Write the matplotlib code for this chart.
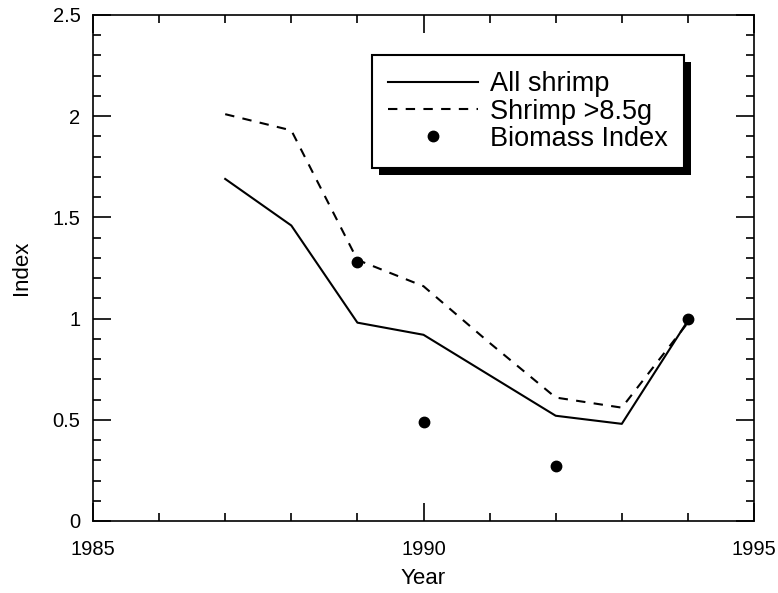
import matplotlib
matplotlib.use("Agg")
import matplotlib.pyplot as plt
from matplotlib.ticker import MultipleLocator
from matplotlib.patches import Rectangle
from matplotlib.transforms import IdentityTransform

plt.rcParams['font.family'] = ['Liberation Sans', 'DejaVu Sans']

years = [1987, 1988, 1989, 1990, 1991, 1992, 1993, 1994]
all_shrimp = [1.69, 1.46, 0.98, 0.92, 0.72, 0.52, 0.48, 0.99]
shrimp_large = [2.01, 1.93, 1.29, 1.16, 0.88, 0.61, 0.56, 0.98]
biomass_years = [1989, 1990, 1992, 1994]
biomass_index = [1.28, 0.49, 0.27, 1.00]
y_tick_labels = ['0', '0.5', '1', '1.5', '2', '2.5']

fig = plt.figure(figsize=(7.78, 5.93), dpi=100)
ax = fig.add_axes([93/778, 1 - 521/593, (754-93)/778, (521-15)/593])

ax.plot(years, all_shrimp, color='black', lw=1.5, label='All shrimp')
ax.plot(years, shrimp_large, color='black', lw=1.5, ls=(0, (4.5, 4)), label='Shrimp >8.5g')
ax.plot(biomass_years, biomass_index, 'o', color='black', ms=7.5, label='Biomass Index')

ax.set_xlim(1985, 1995)
ax.set_ylim(0, 2.5)
ax.xaxis.set_major_locator(MultipleLocator(5))
ax.xaxis.set_minor_locator(MultipleLocator(1))
ax.set_yticks([0, 0.5, 1, 1.5, 2, 2.5])
ax.set_yticklabels(y_tick_labels)
ax.yaxis.set_minor_locator(MultipleLocator(0.1))
ax.tick_params(which='both', direction='in', top=True, right=True, labelsize=14.5, width=1.2)
ax.tick_params(which='major', length=13)
ax.tick_params(which='minor', length=6)
ax.tick_params(axis='x', which='major', pad=14)
ax.tick_params(axis='y', which='major', pad=9)
for s in ax.spines.values():
    s.set_linewidth(1.2)

ax.set_xlabel('Year', fontsize=16, labelpad=6)
ax.set_ylabel('Index', fontsize=16, labelpad=15)

leg = ax.legend(loc='upper left', bbox_to_anchor=((372-93)/661, (521-55)/506),
                borderaxespad=0, fontsize=19.5, frameon=True, fancybox=False,
                handlelength=3.3, handletextpad=0.45, borderpad=0.6, labelspacing=0.05)
leg.get_frame().set_edgecolor('black')
leg.get_frame().set_linewidth(1.5)
leg.get_frame().set_alpha(1)

fig.canvas.draw()
bb = leg.get_window_extent()
shadow = Rectangle((bb.x0 + 7, bb.y0 - 7), bb.width, bb.height, transform=IdentityTransform(),
                   facecolor='black', edgecolor='none', zorder=4.9, clip_on=False)
ax.add_artist(shadow)

fig.savefig('out.png', dpi=100)
